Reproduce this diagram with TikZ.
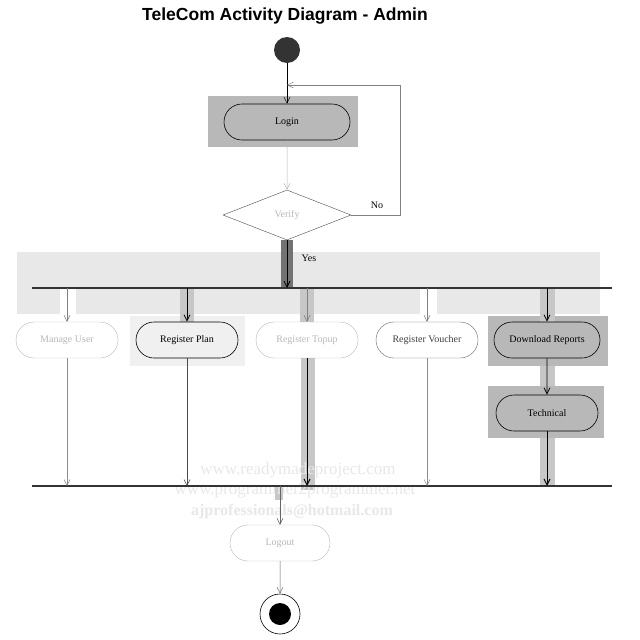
\documentclass[tikz,border=0pt]{standalone}
\usepackage{fontspec}
\setmainfont{Liberation Serif}
\newfontfamily\titlefont{Liberation Sans}
\usetikzlibrary{shapes.misc,shapes.geometric,arrows.meta}
\definecolor{band}{gray}{0.91}
\definecolor{hilite}{gray}{0.72}
\definecolor{strip}{gray}{0.78}
\definecolor{darkstrip}{gray}{0.45}
\definecolor{faint}{gray}{0.72}
\tikzset{
  act/.style={rounded rectangle, draw=black, line width=0.6pt, minimum width=106pt,
    minimum height=36pt, font=\fontsize{10}{11}\selectfont, inner sep=2pt},
  actfaint/.style={act, draw=faint, text=faint, line width=0.4pt},
  flow/.style={-{Straight Barb[length=6pt,width=6pt]}, line width=0.5pt},
  flowfaint/.style={flow, draw=faint},
  bar/.style={line width=1.6pt, draw=black!80},
  edgelabel/.style={font=\fontsize{10}{11}\selectfont},
  wm/.style={text=black!9, font=\fontsize{17}{18}\selectfont}
}
\begin{document}
\begin{tikzpicture}[x=1pt,y=-1pt]
\useasboundingbox (0,0) rectangle (640,640);
\fill[white] (0,0) rectangle (640,640);

% title
\node[font=\titlefont\bfseries\fontsize{17.5}{19}\selectfont] (title) at (285,16) {TeleCom Activity Diagram - Admin};

% backdrops
\fill[band] (17,252) rectangle (600,314);
\fill[hilite] (208,96) rectangle (358,147);
\fill[hilite] (488,316) rectangle (608,366);
\fill[hilite] (488,386) rectangle (604,438);
\fill[black!6] (130,316) rectangle (245,366);
\fill[darkstrip] (281,240) rectangle (293,288);
\fill[strip] (180,288) rectangle (194,322);
\fill[strip] (300,288) rectangle (314,322);
\fill[strip] (301,358) rectangle (315,490);
\fill[strip] (540,288) rectangle (555,322);
\fill[strip] (540,366) rectangle (555,386);
\fill[strip] (540,438) rectangle (555,486);
\fill[white] (60,288) rectangle (76,316);
\fill[white] (420,288) rectangle (437,316);
\fill[strip] (275,486) rectangle (283,500);

% watermark
\node[wm] (wm1) at (298,470) {www.readymadeproject.com};
\node[wm] (wm2) at (295,491) {www.programmer2programmer.net};
\node[wm, font=\bfseries\fontsize{16}{17}\selectfont] (wm3) at (292,512) {ajprofessionals@hotmail.com};

% start
\fill[black!80] (287,50) circle (13);
\coordinate (start) at (287,63);

% login and decision
\node[act, fill=hilite, minimum width=130pt] (login) at (287,122) {Login};
\node[diamond, draw=black!70, line width=0.4pt, aspect=2.55, minimum width=128pt, minimum height=50pt,
  inner sep=0pt, text=faint, font=\fontsize{10}{11}\selectfont] (verify) at (287,215) {Verify};

\draw[flow] (start) -- (login);
\draw[flowfaint] (login) -- (verify);
\coordinate (loopA) at (400,215);
\coordinate (loopB) at (400,85);
\coordinate (loopC) at (287,85);
\draw[flowfaint, draw=black!50] (verify.east) -- (loopA) -- (loopB) -- (loopC);
\node[edgelabel] (no) at (377,205) {No};

% fork bar
\coordinate (forkL) at (32,288);
\coordinate (forkR) at (612,288);
\draw[bar] (forkL) -- (forkR);
\coordinate (forkin) at (287,288);
\draw[flow, line width=0.8pt] (verify.south) -- (forkin);
\node[edgelabel] (yes) at (309,258) {Yes};

% activities
\node[actfaint] (manage) at (67,340) {Manage User};
\node[act] (plan) at (187,340) {Register Plan};
\node[actfaint] (topup) at (307,340) {Register Topup};
\node[act, draw=black!60, text=black!75, line width=0.4pt] (voucher) at (427,340) {Register Voucher};
\node[act, fill=hilite, minimum width=110pt] (reports) at (547,340) {Download Reports};
\node[act, fill=hilite] (tech) at (547,413) {Technical};

\coordinate (f1) at (67,288);
\coordinate (f2) at (187,288);
\coordinate (f3) at (307,288);
\coordinate (f4) at (427,288);
\coordinate (f5) at (547,288);
\draw[flowfaint, draw=black!50] (f1) -- (manage);
\draw[flow, line width=0.8pt] (f2) -- (plan);
\draw[flow, draw=black!50] (f3) -- (topup);
\draw[flowfaint, draw=black!50] (f4) -- (voucher);
\draw[flow, line width=0.8pt] (f5) -- (reports);
\draw[flow, line width=0.8pt] (reports) -- (tech);

% join bar
\coordinate (joinL) at (32,486);
\coordinate (joinR) at (612,486);
\draw[bar] (joinL) -- (joinR);
\coordinate (j1) at (67,486);
\coordinate (j2) at (187,486);
\coordinate (j3) at (307,486);
\coordinate (j4) at (427,486);
\coordinate (j5) at (547,486);
\draw[flowfaint, draw=black!45] (manage) -- (j1);
\draw[flow, draw=black!70] (plan) -- (j2);
\draw[flow, line width=1pt] (topup) -- (j3);
\draw[flowfaint, draw=black!45] (voucher) -- (j4);
\draw[flow, line width=1pt] (tech) -- (j5);

% logout and end
\node[actfaint, minimum width=104pt] (logout) at (280,543) {Logout};
\coordinate (joinout) at (280,486);
\draw[flow, draw=black!60] (joinout) -- (logout);
\node[circle, draw=black, line width=0.6pt, fill=white, minimum size=40pt, inner sep=0pt] (end) at (280,614) {};
\fill[black] (end.center) circle (11);
\draw[flow, draw=black!60] (logout) -- (end);
\end{tikzpicture}
\end{document}
